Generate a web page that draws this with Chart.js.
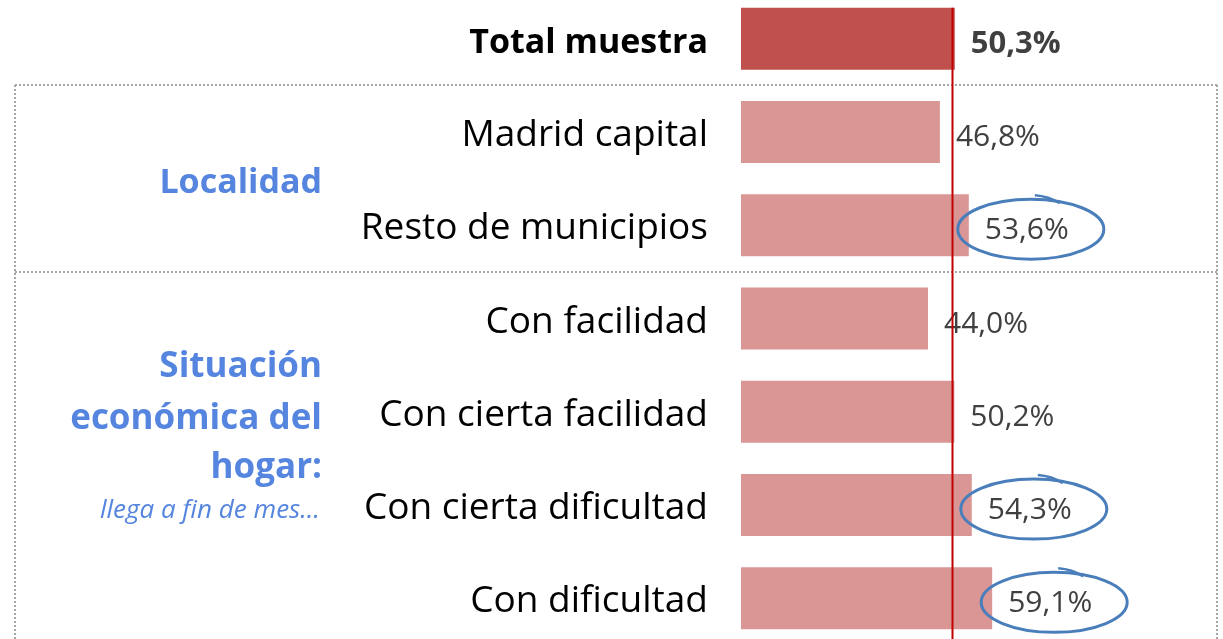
<!DOCTYPE html>
<html><head><meta charset="utf-8">
<script src="https://cdn.jsdelivr.net/npm/chart.js@4.4.1/dist/chart.umd.min.js"></script>
<style>
html,body{margin:0;padding:0;background:#fff;overflow:hidden;width:1223px;height:639px;}
#wrap{position:absolute;left:0;top:-8px;width:1223px;height:653px;}
</style></head><body>
<div id="wrap"><canvas id="c"></canvas></div>
<script>
const categories = ['Total muestra','Madrid capital','Resto de municipios','Con facilidad','Con cierta facilidad','Con cierta dificultad','Con dificultad'];
const values = [50.3, 46.8, 53.6, 44.0, 50.2, 54.3, 59.1];
const valueLabels = ['50,3%','46,8%','53,6%','44,0%','50,2%','54,3%','59,1%'];
const highlighted = [false, false, true, false, false, true, true];
const referenceValue = 49.6;
const groupLocalidad = ['Localidad'];
const groupSituacion = ['Situación','económica del','hogar:'];
const groupSituacionNote = 'llega a fin de mes…';

const FONT = '"Open Sans"';
const BLUE = '#5585DF';

const decor = {
  id: 'decor',
  afterDatasetsDraw(chart) {
    const {ctx, scales: {x, y}} = chart;
    const bars = chart.getDatasetMeta(0).data;
    ctx.save();
    // dotted separators / boxes
    ctx.strokeStyle = '#A6A6A6'; ctx.lineWidth = 2; ctx.setLineDash([2, 2]);
    const b1 = Math.round((y.getPixelForValue(0) + y.getPixelForValue(1)) / 2);
    const b2 = Math.round((y.getPixelForValue(2) + y.getPixelForValue(3)) / 2);
    const L = 15, R = 1217, B = chart.height;
    ctx.beginPath();
    ctx.moveTo(L, b1); ctx.lineTo(R, b1);
    ctx.moveTo(L, b2); ctx.lineTo(R, b2);
    ctx.moveTo(L, b1); ctx.lineTo(L, B);
    ctx.moveTo(R, b1); ctx.lineTo(R, B);
    ctx.stroke();
    ctx.setLineDash([]);

    // category labels
    ctx.textBaseline = 'alphabetic';
    ctx.textAlign = 'right';
    ctx.fillStyle = '#000';
    categories.forEach((c, i) => {
      ctx.font = (i === 0 ? 'bold 34px ' : '37px ') + FONT;
      ctx.fillText(c, x.left - 33, y.getPixelForValue(i) + 14);
    });

    // value labels
    ctx.textAlign = 'left';
    bars.forEach((bar, i) => {
      ctx.font = (i === 0 ? 'bold 31px ' : '30px ') + FONT;
      ctx.fillStyle = '#404040';
      const tx = bar.x + 16;
      ctx.fillText(valueLabels[i], tx, bar.y + 14);
      if (highlighted[i]) {
        const w = ctx.measureText(valueLabels[i]).width;
        const cx = tx + w / 2 + 4, cy = bar.y + 4;
        ctx.strokeStyle = '#4A7EBB'; ctx.lineWidth = 3;
        ctx.beginPath();
        ctx.ellipse(cx, cy, 73, 30, 0, 0, Math.PI * 2);
        ctx.stroke();
        ctx.lineWidth = 2.5;
        ctx.beginPath();
        ctx.moveTo(cx + 4, cy - 34);
        ctx.quadraticCurveTo(cx + 18, cy - 33, cx + 29, cy - 26);
        ctx.stroke();
      }
    });

    // reference line
    const rx = Math.round(x.getPixelForValue(referenceValue)) + 0.5;
    ctx.strokeStyle = '#C00000'; ctx.lineWidth = 2;
    ctx.beginPath();
    ctx.moveTo(rx, bars[0].y - bars[0].height / 2);
    ctx.lineTo(rx, B);
    ctx.stroke();

    // group labels
    ctx.textAlign = 'right';
    ctx.fillStyle = BLUE;
    const g1 = (y.getPixelForValue(1) + y.getPixelForValue(2)) / 2;
    ctx.font = 'bold 34px ' + FONT;
    ctx.fillText(groupLocalidad[0], 322, g1 + 14);
    const g2 = (y.getPixelForValue(3) + y.getPixelForValue(6)) / 2;
    const offs = [-81, -29, 20];
    ctx.font = 'bold 35px ' + FONT;
    groupSituacion.forEach((t, i) => ctx.fillText(t, 322, g2 + offs[i]));
    ctx.font = 'italic 26px ' + FONT;
    ctx.fillText(groupSituacionNote, 320, g2 + 60);
    ctx.restore();
  }
};

new Chart(document.getElementById('c'), {
  type: 'bar',
  data: {
    labels: categories,
    datasets: [{
      data: values,
      backgroundColor: values.map((v, i) => i === 0 ? '#C0504D' : '#D99694'),
      borderWidth: 0,
      categoryPercentage: 1,
      barPercentage: 0.665
    }]
  },
  options: {
    indexAxis: 'y',
    responsive: true,
    maintainAspectRatio: false,
    animation: false,
    layout: {padding: {left: 741, right: 57, top: 0, bottom: 0}},
    plugins: {legend: {display: false}, tooltip: {enabled: false}},
    scales: {
      x: {display: false, min: 0, max: 100},
      y: {display: false}
    }
  },
  plugins: [decor]
});
</script>
</body></html>
